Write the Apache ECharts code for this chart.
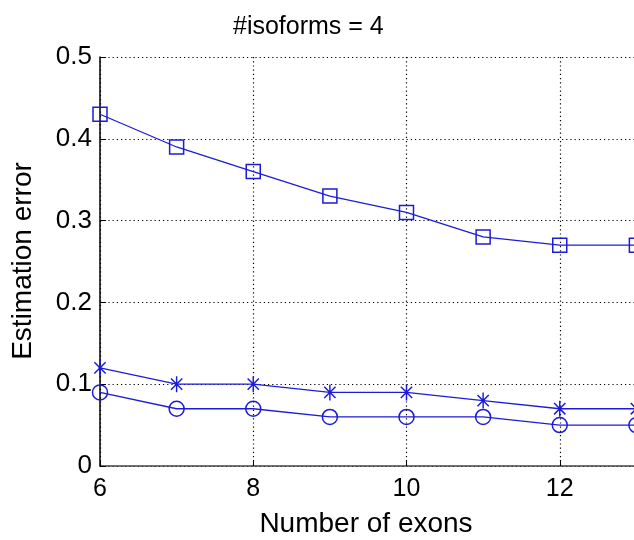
<!DOCTYPE html>
<html><head><meta charset="utf-8">
<script src="https://cdn.jsdelivr.net/npm/echarts@6/dist/echarts.min.js"></script>
<style>html,body{margin:0;padding:0;background:#fff}#c{width:634px;height:540px}</style>
</head><body><div id="c"></div>
<script>
const exons = [6, 7, 8, 9, 10, 11, 12, 13];
const squareErr = [0.43, 0.39, 0.36, 0.33, 0.31, 0.28, 0.27, 0.27];
const starErr = [0.12, 0.10, 0.10, 0.09, 0.09, 0.08, 0.07, 0.07];
const circleErr = [0.09, 0.07, 0.07, 0.06, 0.06, 0.06, 0.05, 0.05];

const pair = (ys) => exons.map((x, i) => [x, ys[i]]);
const blue = '#1c1cd8';
const font = 'Liberation Sans, Arial, sans-serif';
// asterisk: vertical bar + two diagonals (filled thin bars)
const star = 'path://M-0.9,-10L0.9,-10L0.9,10L-0.9,10Z' +
  'M-7.7,-6.4L-6.4,-7.7L7.7,6.4L6.4,7.7Z' +
  'M6.4,-7.7L7.7,-6.4L-6.4,7.7L-7.7,6.4Z' +
  'M-2,-2L2,-2L2,2L-2,2Z';

const chart = echarts.init(document.getElementById('c'), null, {renderer: 'canvas'});
chart.setOption({
  animation: false,
  backgroundColor: '#fff',
  title: {
    text: '#isoforms = 4', left: 228, top: 10,
    textStyle: {fontFamily: font, fontSize: 25, fontWeight: 'normal', color: '#000'}
  },
  grid: {left: 100, top: 57, bottom: 74, right: -79, containLabel: false, outerBoundsMode: 'none'},
  xAxis: {
    type: 'value', min: 6, max: 14, interval: 2,
    axisLine: {lineStyle: {color: '#444', width: 1.5}},
    axisTick: {inside: true, length: 6, lineStyle: {color: '#000'}},
    axisLabel: {fontFamily: font, fontSize: 25, color: '#000', margin: 11},
    splitLine: {show: true, lineStyle: {type: [1.2, 3], color: '#000', width: 1.2}}
  },
  yAxis: {
    type: 'value', min: 0, max: 0.5, interval: 0.1,
    axisLine: {show: true, lineStyle: {color: '#000', width: 1.5}},
    axisTick: {show: true, inside: true, length: 6, lineStyle: {color: '#000'}},
    axisLabel: {fontFamily: font, fontSize: 26, color: '#000', margin: 8,
      formatter: v => (v === 0 ? '0' : v.toFixed(1))},
    splitLine: {show: true, lineStyle: {type: [1.2, 3], color: '#000', width: 1.2}}
  },
  graphic: [
    {type: 'text', x: 366, y: 524,
     style: {text: 'Number of exons', font: '28px ' + font, fill: '#000',
       align: 'center', verticalAlign: 'middle'}},
    {type: 'text', x: 23, y: 261, rotation: Math.PI / 2,
     style: {text: 'Estimation error', font: '28px ' + font, fill: '#000',
       align: 'center', verticalAlign: 'middle'}}
  ],
  series: [
    {type: 'line', data: pair(squareErr), symbol: 'rect', symbolSize: 14,
     lineStyle: {color: blue, width: 1.3},
     itemStyle: {color: 'transparent', borderColor: blue, borderWidth: 1.5}},
    {type: 'line', data: pair(starErr), symbol: star, symbolSize: 16, symbolKeepAspect: true,
     lineStyle: {color: blue, width: 1.3},
     itemStyle: {color: blue, borderWidth: 0}},
    {type: 'line', data: pair(circleErr), symbol: 'circle', symbolSize: 15,
     lineStyle: {color: blue, width: 1.3},
     itemStyle: {color: 'transparent', borderColor: blue, borderWidth: 1.5}}
  ]
});
</script></body></html>
